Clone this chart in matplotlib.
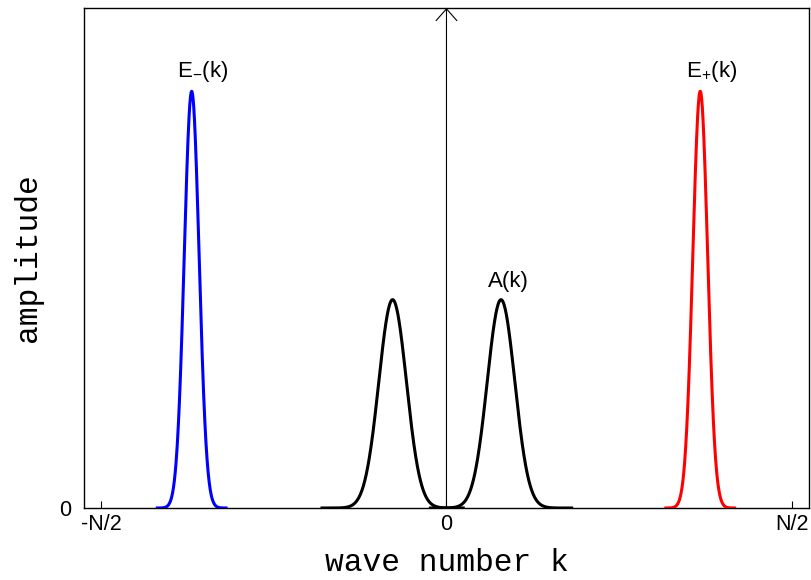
import numpy as np
import matplotlib
matplotlib.use('Agg')
import matplotlib.pyplot as plt

plt.rcParams['font.family'] = ['Liberation Sans', 'DejaVu Sans']
plt.rcParams['mathtext.fontset'] = 'custom'
plt.rcParams['mathtext.rm'] = 'Liberation Sans'
plt.rcParams['mathtext.it'] = 'Liberation Sans'

# peak parameters (k in units of N/2)
peak_names = ["E-", "A1", "A2", "E+"]
peak_centers = [-0.738, -0.156, 0.158, 0.735]
peak_heights = [1.0, 0.5, 0.5, 1.0]
peak_sigmas = [0.0215, 0.040, 0.040, 0.0215]
peak_spans = [0.104, 0.209, 0.209, 0.104]
peak_colors = ['#0000ff', 'black', 'black', '#ff0000']

x_ticks = [-1, 0, 1]
x_ticklabels = ['-N/2', '0', 'N/2']
y_ticks = [0]
y_ticklabels = ['0']

labels = [(r'E$_{\mathrm{-}}$(k)', -0.705, 1.034), (r'E$_{+}$(k)', 0.769, 1.034), ('A(k)', 0.178, 0.53)]

fig = plt.figure(figsize=(8.12, 5.8), dpi=100)
ax = fig.add_axes([0.1034, 0.1241, 0.8929, 0.8621])

for c, h, s, w, col in zip(peak_centers, peak_heights, peak_sigmas, peak_spans, peak_colors):
    k = np.linspace(c - w, c + w, 400)
    ax.plot(k, h * np.exp(-(k - c) ** 2 / (2 * s ** 2)), color=col, lw=2.2,
            solid_capstyle='butt', zorder=3)

# vertical axis arrow at k = 0
ax.annotate('', xy=(0, 1.2), xytext=(0, 0),
            arrowprops=dict(arrowstyle='->,head_length=0.85,head_width=0.75',
                            lw=0.8, color='black', shrinkA=0, shrinkB=0,
                            mutation_scale=10))

for txt, x, y in labels:
    ax.text(x, y, txt, ha='center', va='baseline', fontsize=16)

ax.set_xlim(-1.05, 1.05)
ax.set_ylim(0, 1.2)
ax.set_xticks(x_ticks)
ax.set_xticklabels(x_ticklabels, fontsize=15.5)
ax.set_yticks(y_ticks)
ax.set_yticklabels(y_ticklabels, fontsize=15.5)
ax.tick_params(axis='x', direction='in', length=5, width=0.8, pad=4.5)
ax.tick_params(axis='y', direction='in', length=0, pad=9)
for sp in ax.spines.values():
    sp.set_linewidth(1.0)

ax.set_xlabel('wave number k', family='Liberation Mono', fontsize=22.5, labelpad=9)
ax.set_ylabel('amplitude', family='Liberation Mono', fontsize=22.5, labelpad=12)

fig.savefig('out.png', dpi=100)
